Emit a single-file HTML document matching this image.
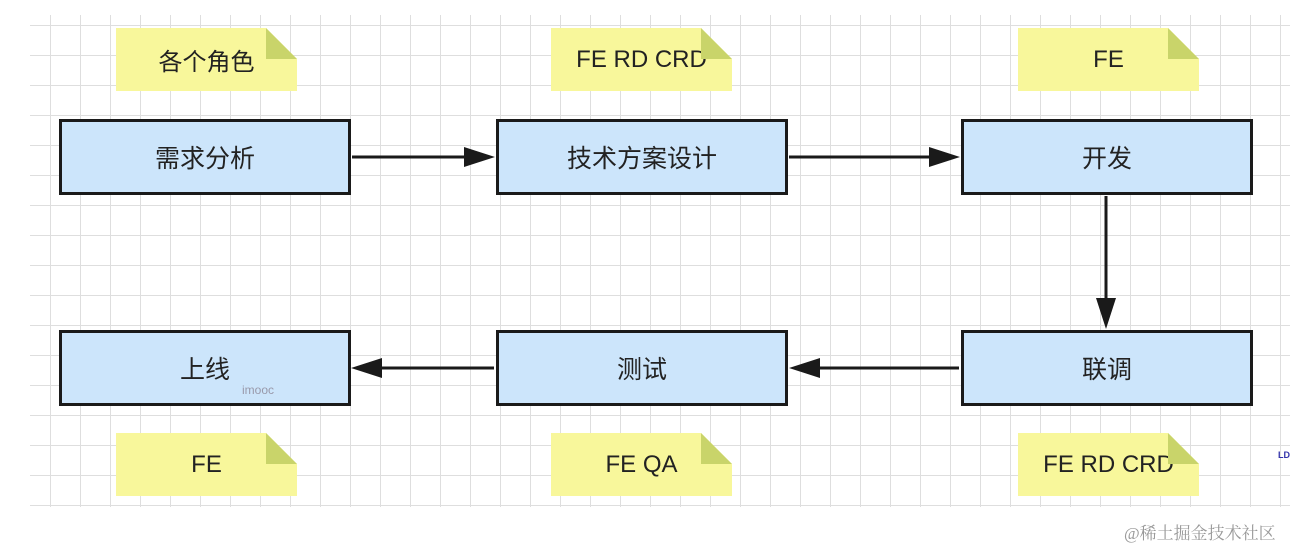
<!DOCTYPE html>
<html><head><meta charset="utf-8"><style>
body{margin:0;width:1291px;height:548px;background:#fff;position:relative;overflow:hidden;font-family:"Liberation Sans","Noto Sans CJK SC",sans-serif}
.grid{position:absolute;left:30px;top:15px;width:1260px;height:492px;
background-image:linear-gradient(#dedede 1px,transparent 1px),linear-gradient(90deg,#dedede 1px,transparent 1px);
background-size:30px 30px;background-position:-10px 10px}
.box{position:absolute;width:286px;height:70px;border:3px solid #1a1a1a;background:#cce5fb;display:flex;align-items:center;justify-content:center;font-size:25px;color:#222}
.note{position:absolute;width:181px;height:63px;background:#f8f79b;display:flex;align-items:center;justify-content:center;font-size:24px;color:#222;
clip-path:polygon(0 0,150px 0,181px 31px,181px 63px,0 63px)}
.fold{position:absolute;width:31px;height:31px;background:#c9d46a;clip-path:polygon(0 0,100% 100%,0 100%)}
</style></head><body>
<div class="grid"></div>
<div class="note" style="left:116px;top:28px">各个角色</div><div class="fold" style="left:266px;top:28px"></div>
<div class="note" style="left:551px;top:28px">FE RD CRD</div><div class="fold" style="left:701px;top:28px"></div>
<div class="note" style="left:1018px;top:28px">FE</div><div class="fold" style="left:1168px;top:28px"></div>
<div class="note" style="left:116px;top:433px">FE</div><div class="fold" style="left:266px;top:433px"></div>
<div class="note" style="left:551px;top:433px">FE QA</div><div class="fold" style="left:701px;top:433px"></div>
<div class="note" style="left:1018px;top:433px">FE RD CRD</div><div class="fold" style="left:1168px;top:433px"></div>
<div class="box" style="left:59px;top:119px">需求分析</div>
<div class="box" style="left:496px;top:119px">技术方案设计</div>
<div class="box" style="left:961px;top:119px">开发</div>
<div class="box" style="left:59px;top:330px">上线</div>
<div class="box" style="left:496px;top:330px">测试</div>
<div class="box" style="left:961px;top:330px">联调</div>
<div style="position:absolute;left:242px;top:383px;font-size:12px;color:#99a">imooc</div>
<svg style="position:absolute;left:0;top:0" width="1291" height="548">
<g stroke="#1a1a1a" stroke-width="3" fill="#1a1a1a">
<line x1="352" y1="157" x2="470" y2="157"/><polygon points="495,157 464,147 464,167" stroke="none"/>
<line x1="789" y1="157" x2="935" y2="157"/><polygon points="960,157 929,147 929,167" stroke="none"/>
<line x1="1106" y1="196" x2="1106" y2="304"/><polygon points="1106,329 1096,298 1116,298" stroke="none"/>
<line x1="959" y1="368" x2="814" y2="368"/><polygon points="789,368 820,358 820,378" stroke="none"/>
<line x1="494" y1="368" x2="376" y2="368"/><polygon points="351,368 382,358 382,378" stroke="none"/>
</g></svg>
<div style="position:absolute;left:1278px;top:450px;font-size:9px;font-weight:bold;color:#33a">LD</div>
<div style="position:absolute;left:1124px;top:519px;font-size:17px;color:#999;font-family:'Liberation Serif','Noto Serif CJK SC',serif">@稀土掘金技术社区</div>
</body></html>
